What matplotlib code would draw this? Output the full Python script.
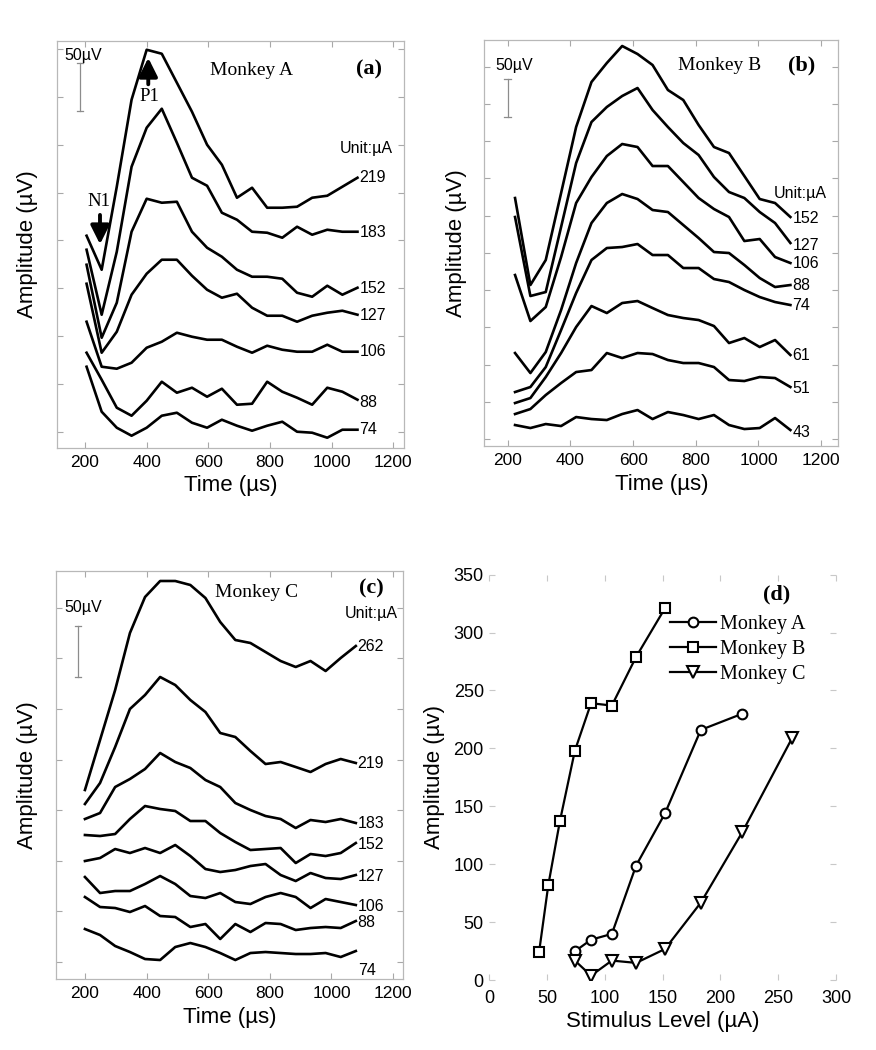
import matplotlib
matplotlib.use('Agg')
import matplotlib.pyplot as plt

plt.rcParams['font.family'] = ['Liberation Sans', 'DejaVu Sans']
SERIF = ['Liberation Serif', 'DejaVu Serif']

# ---------------- data ----------------
# sample times (us) of the evoked responses
time_a = [205, 254, 303, 351, 400, 449, 498, 547, 596, 644, 693, 742, 791, 840, 888, 937, 986, 1035, 1084]
time_b = [223, 272, 321, 370, 418, 467, 516, 565, 614, 662, 711, 760, 809, 858, 906, 955, 1004, 1053, 1102]
time_c = [200, 249, 298, 346, 395, 444, 493, 542, 591, 639, 688, 737, 786, 835, 884, 932, 981, 1030, 1079]

# Monkey A traces (vertically offset, plot units)
levels_a = ['219', '183', '152', '127', '106', '88', '74']
a219 = [212, 178, 261, 348, 398, 394, 365, 336, 303, 283, 250, 260, 240, 240, 241, 250, 252, 261, 270]
a183 = [198, 133, 196, 281, 320, 339, 305, 270, 262, 235, 228, 216, 215, 210, 221, 213, 218, 216, 216]
a152 = [183, 110, 145, 216, 249, 245, 246, 216, 200, 191, 178, 171, 171, 169, 155, 151, 162, 153, 160]
a127 = [164, 95, 116, 153, 174, 188, 188, 172, 158, 150, 154, 140, 132, 132, 126, 132, 135, 137, 133]
a106 = [126, 81, 79, 85, 100, 106, 115, 111, 108, 108, 101, 95, 102, 98, 96, 96, 103, 96, 96]
a88 = [95, 68, 40, 32, 47, 66, 55, 60, 51, 59, 43, 44, 66, 56, 50, 43, 60, 56, 48]
a74 = [81, 36, 20, 12, 20, 32, 35, 25, 20, 28, 22, 17, 22, 26, 16, 15, 10, 18, 18]

# Monkey B traces
levels_b = ['152', '127', '106', '88', '74', '61', '51', '43']
b152 = [248, 161, 186, 253, 319, 364, 383, 400, 392, 381, 356, 346, 321, 299, 293, 270, 247, 243, 229]
b127 = [229, 150, 154, 219, 283, 324, 339, 350, 358, 336, 319, 303, 291, 269, 254, 248, 234, 223, 203]
b106 = [171, 125, 139, 189, 243, 269, 290, 302, 299, 280, 280, 264, 248, 237, 229, 205, 207, 189, 183]
b88 = [93, 73, 94, 136, 183, 223, 243, 252, 247, 236, 234, 221, 208, 194, 193, 181, 168, 159, 161]
b74 = [54, 59, 79, 116, 153, 186, 198, 199, 202, 191, 191, 178, 178, 167, 164, 156, 149, 144, 141]
b61 = [43, 48, 69, 93, 119, 140, 133, 143, 145, 138, 131, 128, 126, 120, 103, 108, 99, 106, 91]
b51 = [32, 37, 51, 63, 74, 76, 93, 88, 93, 92, 86, 83, 83, 79, 66, 65, 69, 68, 59]
b43 = [21, 18, 22, 20, 29, 27, 26, 32, 36, 27, 34, 31, 27, 31, 21, 17, 18, 28, 16]

# Monkey C traces
levels_c = ['262', '219', '183', '152', '127', '106', '88', '74']
c262 = [189, 239, 289, 346, 382, 398, 398, 394, 381, 357, 339, 336, 327, 318, 312, 318, 308, 321, 333]
c219 = [175, 196, 232, 270, 284, 302, 294, 279, 267, 246, 242, 228, 215, 217, 212, 207, 215, 220, 216]
c183 = [160, 166, 192, 200, 210, 226, 217, 211, 199, 192, 176, 169, 163, 160, 151, 159, 157, 160, 156]
c152 = [144, 143, 145, 160, 173, 170, 168, 158, 158, 146, 137, 129, 130, 131, 116, 125, 123, 126, 136]
c127 = [118, 121, 130, 126, 131, 126, 134, 123, 110, 107, 109, 113, 115, 104, 98, 106, 101, 100, 104]
c106 = [102, 86, 88, 88, 95, 103, 95, 83, 81, 86, 77, 75, 82, 86, 82, 71, 80, 77, 74]
c88 = [82, 72, 71, 67, 73, 63, 62, 52, 55, 40, 55, 47, 56, 55, 49, 51, 52, 51, 58]
c74 = [50, 44, 33, 27, 20, 19, 32, 36, 32, 26, 19, 26, 27, 26, 25, 25, 26, 22, 28]

# Panel (d): amplitude vs stimulus level
stim_A = [74, 88, 106, 127, 152, 183, 219]
amp_A = [25, 35, 40, 99, 144, 216, 230]
stim_B = [43, 51, 61, 74, 88, 106, 127, 152]
amp_B = [24, 82, 137, 198, 239, 237, 279, 321]
stim_C = [74, 88, 106, 127, 152, 183, 219, 262]
amp_C = [17, 4, 17, 15, 27, 67, 128, 209]

time_ticks = [200, 400, 600, 800, 1000, 1200]

# ---------------- figure ----------------
fig = plt.figure(figsize=(8.76, 10.5), dpi=100)
axA = fig.add_axes([0.0647, 0.5736, 0.3965, 0.3876])
axB = fig.add_axes([0.5529, 0.5752, 0.4041, 0.3867])
axC = fig.add_axes([0.0639, 0.0676, 0.3961, 0.3886])
axD = fig.add_axes([0.5586, 0.0664, 0.3958, 0.3864])

SPINE = '#b8b8b8'
TICK = '#a8a8a8'


def style_trace_axes(ax, xlim, ylim, y0, dy, ylabel_x):
    ax.set_xlim(*xlim)
    ax.set_ylim(*ylim)
    ax.set_xticks(time_ticks)
    yt = []
    v = y0
    while v < ylim[1]:
        yt.append(v)
        v += dy
    ax.set_yticks(yt)
    ax.set_yticklabels([])
    ax.tick_params(direction='in', length=4, width=0.8, color=TICK,
                   top=True, right=True, labelsize=12.5, pad=5)
    for s in ax.spines.values():
        s.set_color(SPINE)
        s.set_linewidth(0.9)
    ax.set_xlabel('Time (µs)', fontsize=16)
    ax.set_ylabel('Amplitude (µV)', fontsize=16)
    ax.yaxis.set_label_coords(ylabel_x, 0.5)
    ax.xaxis.set_label_coords(0.5, -0.068)


def scale_bar(ax, x, y0, y1, tx, ty):
    ax.plot([x, x], [y0, y1], color='#8c8c8c', lw=0.9)
    w = 10
    ax.plot([x - w, x + w], [y0, y0], color='#8c8c8c', lw=0.9)
    ax.plot([x - w, x + w], [y1, y1], color='#8c8c8c', lw=0.9)
    ax.text(tx, ty, '50µV', fontsize=11.5, ha='center', va='center')


LW = 1.9
LBL = 11.5

# ---- panel (a) ----
for tr in [a219, a183, a152, a127, a106, a88, a74]:
    axA.plot(time_a, tr, color='black', lw=LW)
style_trace_axes(axA, (108, 1235), (0, 407), 15.7, 47.9, -0.053)
for lab, y in zip(levels_a, [270, 215, 159, 132, 96, 45, 18]):
    axA.text(1090, y, lab, fontsize=LBL, ha='left', va='center')
axA.text(1113, 299, 'Unit:µA', fontsize=LBL, ha='center', va='center')
scale_bar(axA, 184, 336.7, 384.6, 195, 392.7)
axA.text(0.561, 0.928, 'Monkey A', transform=axA.transAxes, family=SERIF,
         fontsize=14, ha='center', va='center')
axA.text(0.899, 0.930, '(a)', transform=axA.transAxes, family=SERIF,
         fontsize=16, fontweight='bold', ha='center', va='center')
axA.annotate('', xy=(0.2637, 0.958), xytext=(0.2637, 0.893), xycoords='axes fraction',
             arrowprops=dict(arrowstyle='-|>,head_width=0.4,head_length=0.8',
                             lw=2.8, color='black', mutation_scale=14,
                             shrinkA=0, shrinkB=0))
axA.text(0.267, 0.862, 'P1', transform=axA.transAxes, family=SERIF,
         fontsize=13.5, ha='center', va='center')
axA.annotate('', xy=(0.1247, 0.500), xytext=(0.1247, 0.572), xycoords='axes fraction',
             arrowprops=dict(arrowstyle='-|>,head_width=0.4,head_length=0.8',
                             lw=2.8, color='black', mutation_scale=14,
                             shrinkA=0, shrinkB=0))
axA.text(0.1227, 0.6044, 'N1', transform=axA.transAxes, family=SERIF,
         fontsize=13.5, ha='center', va='center')

# ---- panel (b) ----
for tr in [b152, b127, b106, b88, b74, b61, b51, b43]:
    axB.plot(time_b, tr, color='black', lw=LW)
style_trace_axes(axB, (125, 1255), (0, 406), 7, 37.23, -0.05)
for lab, y in zip(levels_b, [228, 201, 183, 161, 141, 91, 58, 14]):
    axB.text(1108, y, lab, fontsize=LBL, ha='left', va='center')
axB.text(1133, 253, 'Unit:µA', fontsize=LBL, ha='center', va='center')
scale_bar(axB, 199, 329.3, 366.7, 220, 380.3)
axB.text(0.666, 0.938, 'Monkey B', transform=axB.transAxes, family=SERIF,
         fontsize=14, ha='center', va='center')
axB.text(0.897, 0.938, '(b)', transform=axB.transAxes, family=SERIF,
         fontsize=16, fontweight='bold', ha='center', va='center')

# ---- panel (c) ----
for tr in [c262, c219, c183, c152, c127, c106, c88, c74]:
    axC.plot(time_c, tr, color='black', lw=LW)
style_trace_axes(axC, (106, 1232), (0, 408), 17, 50.6, -0.053)
for lab, y in zip(levels_c, [332, 216, 156, 135, 103, 73, 57, 9]):
    axC.text(1085, y, lab, fontsize=LBL, ha='left', va='center')
axC.text(0.91, 0.897, 'Unit:µA', transform=axC.transAxes, fontsize=LBL,
         ha='center', va='center')
scale_bar(axC, 178, 302, 353, 194, 371)
axC.text(0.578, 0.9485, 'Monkey C', transform=axC.transAxes, family=SERIF,
         fontsize=14, ha='center', va='center')
axC.text(0.91, 0.958, '(c)', transform=axC.transAxes, family=SERIF,
         fontsize=16, fontweight='bold', ha='center', va='center')

# ---- panel (d) ----
mk = dict(color='black', lw=1.6, markerfacecolor='white', markeredgecolor='black',
          markeredgewidth=1.5)
axD.plot(stim_A, amp_A, marker='o', markersize=7, label='Monkey A', **mk)
axD.plot(stim_B, amp_B, marker='s', markersize=7, label='Monkey B', **mk)
axD.plot(stim_C, amp_C, marker='v', markersize=8, label='Monkey C', **mk)
axD.set_xlim(0, 300)
axD.set_ylim(0, 350)
axD.set_xticks([0, 50, 100, 150, 200, 250, 300])
axD.set_yticks([0, 50, 100, 150, 200, 250, 300, 350])
for s in axD.spines.values():
    s.set_visible(False)
axD.tick_params(direction='in', length=4, width=0.8, color='#c8c8c8',
                top=True, right=True, labelsize=13)
axD.tick_params(axis='y', pad=4)
axD.tick_params(axis='x', pad=7)
axD.set_xlabel('Stimulus Level (µA)', fontsize=16)
axD.set_ylabel('Amplitude (µv)', fontsize=16)
axD.yaxis.set_label_coords(-0.128, 0.5)
axD.xaxis.set_label_coords(0.5, -0.076)
axD.legend(loc='upper left', bbox_to_anchor=(0.52, 0.90), frameon=False,
           prop={'family': SERIF, 'size': 14.5}, handlelength=2.3,
           handletextpad=0.2, labelspacing=0.28, borderaxespad=0, borderpad=0)
axD.text(0.83, 0.95, '(d)', transform=axD.transAxes, family=SERIF,
         fontsize=16, fontweight='bold', ha='center', va='center')

fig.savefig('out.png', dpi=100)
